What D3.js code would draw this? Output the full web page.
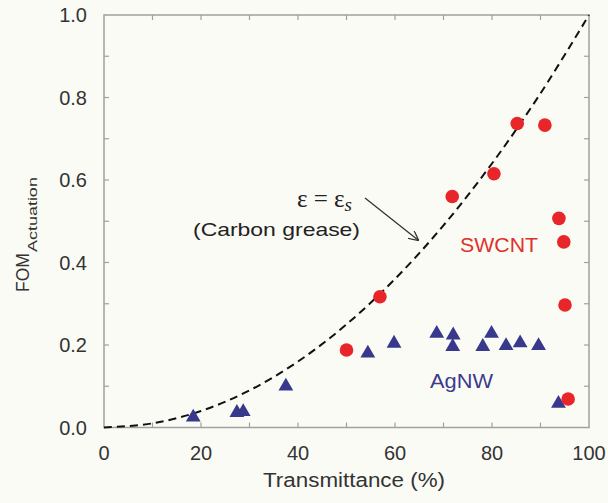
<!DOCTYPE html>
<html><head><meta charset="utf-8">
<script src="https://cdn.jsdelivr.net/npm/d3@7"></script>
<style>body{margin:0;background:#fbfbf6;} svg{display:block;}</style>
</head><body>
<svg id="c" width="608" height="503"></svg>
<script>
const swcntT = [50.0, 56.9, 71.8, 80.4, 85.2, 90.9, 93.8, 94.8, 95.05, 95.7];
const swcntFOM = [0.188, 0.317, 0.56, 0.615, 0.737, 0.733, 0.507, 0.45, 0.297, 0.069];
const agnwT = [18.4, 27.4, 28.7, 37.5, 54.4, 59.8, 68.6, 72.0, 71.9, 78.1, 79.9, 82.9, 85.8, 89.6, 93.7];
const agnwFOM = [0.025, 0.036, 0.038, 0.10, 0.18, 0.204, 0.228, 0.224, 0.196, 0.196, 0.228, 0.198, 0.205, 0.198, 0.058];
const curveT = [0, 10, 20, 30, 40, 50, 60, 70, 80, 90, 100];
const curveFOM = [0, 0.01, 0.04, 0.09, 0.16, 0.25, 0.36, 0.49, 0.64, 0.81, 1.0];
const xTicks = [0, 20, 40, 60, 80, 100];
const yTicks = [0.0, 0.2, 0.4, 0.6, 0.8, 1.0];

const svg = d3.select("#c");
const x = d3.scaleLinear().domain([0, 100]).range([104, 589]);
const y = d3.scaleLinear().domain([0, 1]).range([427.5, 15]);
const axisCol = "#a0a0a0", textCol = "#333";
const sans = "Liberation Sans, Arial, sans-serif";

svg.append("rect").attr("width", 608).attr("height", 503).attr("fill", "#fbfbf6");

// frame
svg.append("rect").attr("x", x(0)).attr("y", y(1)).attr("width", x(100) - x(0)).attr("height", y(0) - y(1))
  .attr("fill", "none").attr("stroke", axisCol).attr("stroke-width", 1.5);

const xMinor = d3.range(10, 100, 10);
const yMinor = d3.range(0.1, 1.0, 0.1);
const tk = 5;
const g = svg.append("g").attr("stroke", axisCol).attr("stroke-width", 1.2);
xMinor.forEach(v => {
  g.append("line").attr("x1", x(v)).attr("x2", x(v)).attr("y1", y(0)).attr("y2", y(0) - tk);
  g.append("line").attr("x1", x(v)).attr("x2", x(v)).attr("y1", y(1)).attr("y2", y(1) + tk);
});
yMinor.forEach(v => {
  g.append("line").attr("x1", x(0)).attr("x2", x(0) + tk).attr("y1", y(v)).attr("y2", y(v));
  g.append("line").attr("x1", x(100)).attr("x2", x(100) - tk).attr("y1", y(v)).attr("y2", y(v));
});

// tick labels
svg.append("g").selectAll("text").data(xTicks).join("text")
  .attr("x", d => x(d)).attr("y", 460).attr("text-anchor", "middle")
  .attr("font-family", sans).attr("font-size", 20).attr("fill", textCol)
  .text(d => d);
svg.append("g").selectAll("text").data(yTicks).join("text")
  .attr("x", 87).attr("y", d => y(d) + 7).attr("text-anchor", "end")
  .attr("font-family", sans).attr("font-size", 20).attr("fill", textCol)
  .text(d => d.toFixed(1));

// axis titles
svg.append("text").attr("x", 263).attr("y", 487)
  .attr("font-family", sans).attr("font-size", 19.5).attr("fill", textCol)
  .attr("textLength", 182).attr("lengthAdjust", "spacingAndGlyphs")
  .text("Transmittance (%)");
const yl = svg.append("text").attr("transform", "translate(29,292) rotate(-90)")
  .attr("font-family", sans).attr("fill", textCol);
yl.append("tspan").attr("font-size", 17.5).text("FOM");
yl.append("tspan").attr("font-size", 13.5).attr("dy", 8).attr("dx", 1)
  .attr("textLength", 75).attr("lengthAdjust", "spacingAndGlyphs").text("Actuation");

// dashed curve
svg.append("path").datum(curveT.map((t, i) => [t, curveFOM[i]]))
  .attr("d", d3.line().x(d => x(d[0])).y(d => y(d[1])).curve(d3.curveCatmullRom))
  .attr("fill", "none").attr("stroke", "#111").attr("stroke-width", 2).attr("stroke-dasharray", "8,5");

// AgNW triangles
const tri = d3.symbol().type(d3.symbolTriangle).size(95);
svg.append("g").selectAll("path").data(agnwT.map((t, i) => [t, agnwFOM[i]])).join("path")
  .attr("d", tri).attr("transform", d => `translate(${x(d[0])},${y(d[1])})`)
  .attr("fill", "#38388c");

// SWCNT circles
svg.append("g").selectAll("circle").data(swcntT.map((t, i) => [t, swcntFOM[i]])).join("circle")
  .attr("cx", d => x(d[0])).attr("cy", d => y(d[1])).attr("r", 6.8)
  .attr("fill", "#e8262a");

// labels
svg.append("text").attr("x", 460).attr("y", 252).attr("font-family", sans)
  .attr("font-size", 21).attr("fill", "#e0302c")
  .attr("textLength", 78).attr("lengthAdjust", "spacingAndGlyphs").text("SWCNT");
svg.append("text").attr("x", 430).attr("y", 388).attr("font-family", sans)
  .attr("font-size", 21).attr("fill", "#3c3c8c")
  .attr("textLength", 63).attr("lengthAdjust", "spacingAndGlyphs").text("AgNW");

const eq = svg.append("text").attr("x", 297).attr("y", 207).attr("font-family", "Liberation Serif, Times New Roman, serif")
  .attr("font-size", 25).attr("fill", "#222");
eq.append("tspan").text("ε = ε");
eq.append("tspan").attr("font-style", "italic").attr("font-size", 19).attr("dy", 4).text("s");
svg.append("text").attr("x", 193).attr("y", 236).attr("font-family", sans)
  .attr("font-size", 18.5).attr("fill", "#222")
  .attr("textLength", 167).attr("lengthAdjust", "spacingAndGlyphs").text("(Carbon grease)");

// arrow
svg.append("defs").append("marker").attr("id", "ah").attr("viewBox", "0 0 10 10").attr("refX", 9).attr("refY", 5)
  .attr("markerWidth", 10).attr("markerHeight", 10).attr("markerUnits", "userSpaceOnUse").attr("orient", "auto")
  .append("path").attr("d", "M0,0 L10,5 L0,10").attr("fill", "none").attr("stroke", "#333").attr("stroke-width", 1.3);
svg.append("line").attr("x1", 365).attr("y1", 198).attr("x2", 418).attr("y2", 240)
  .attr("stroke", "#333").attr("stroke-width", 1.3).attr("marker-end", "url(#ah)");
</script>
</body></html>
